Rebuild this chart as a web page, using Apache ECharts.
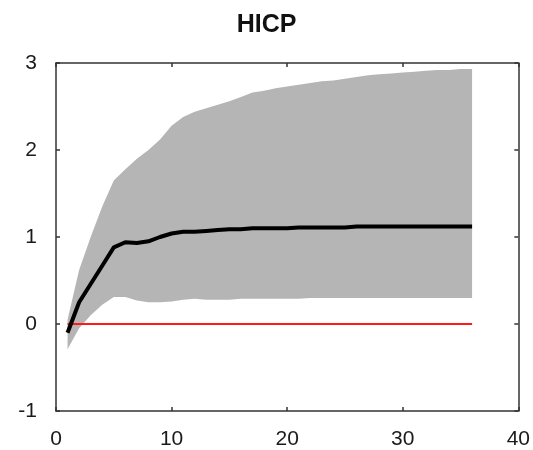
<!DOCTYPE html>
<html>
<head>
<meta charset="utf-8">
<script src="https://cdn.jsdelivr.net/npm/echarts@6/dist/echarts.min.js"></script>
<style>
html, body { margin: 0; padding: 0; background: #fff; }
#main { width: 533px; height: 450px; }
</style>
</head>
<body>
<div id="main"></div>
<script>
// horizons 1..36
var horizon = [];
for (var h = 1; h <= 36; h++) horizon.push(h);

var irf = [-0.10, 0.25, 0.46, 0.67, 0.88, 0.94, 0.93, 0.95, 1.00, 1.04,
    1.06, 1.06, 1.07, 1.08, 1.09, 1.09, 1.10, 1.10, 1.10, 1.10,
    1.11, 1.11, 1.11, 1.11, 1.11, 1.12, 1.12, 1.12, 1.12, 1.12,
    1.12, 1.12, 1.12, 1.12, 1.12, 1.12];

var upper = [0.05, 0.62, 1.00, 1.35, 1.65, 1.78, 1.90, 2.00, 2.12, 2.28,
    2.38, 2.44, 2.48, 2.52, 2.56, 2.61, 2.66, 2.68, 2.71, 2.73,
    2.75, 2.77, 2.79, 2.80, 2.82, 2.84, 2.86, 2.87, 2.88, 2.89,
    2.90, 2.91, 2.92, 2.92, 2.93, 2.93];

var lower = [-0.29, -0.05, 0.10, 0.22, 0.31, 0.31, 0.27, 0.25, 0.25, 0.26,
    0.28, 0.29, 0.28, 0.28, 0.28, 0.29, 0.29, 0.29, 0.29, 0.29,
    0.29, 0.30, 0.30, 0.30, 0.30, 0.30, 0.30, 0.30, 0.30, 0.30,
    0.30, 0.30, 0.30, 0.30, 0.30, 0.30];

var xTicks = [0, 10, 20, 30, 40];
var yTicks = [-1, 0, 1, 2, 3];

function pairs(ys) {
    return horizon.map(function (x, i) { return [x, ys[i]]; });
}

var axisFont = { color: '#1a1a1a', fontSize: 21, fontFamily: 'Liberation Sans, Arial, sans-serif' };
var frame = { onZero: false, lineStyle: { color: '#333', width: 1.5 } };
var inTick = { show: true, inside: true, length: 4, lineStyle: { color: '#333', width: 1.5 } };

var myChart = echarts.init(document.getElementById('main'));
myChart.setOption({
    backgroundColor: '#fff',
    animation: false,
    title: {
        text: 'HICP',
        left: 'center',
        top: 8,
        textStyle: { fontSize: 25, fontWeight: 'bold', color: '#111', fontFamily: 'Liberation Sans, Arial, sans-serif' }
    },
    grid: { left: 56, right: 10, top: 63, bottom: 39 },
    xAxis: [{
        type: 'value',
        min: xTicks[0], max: xTicks[xTicks.length - 1], interval: 10,
        axisLine: frame,
        axisTick: inTick,
        axisLabel: Object.assign({ margin: 18 }, axisFont),
        splitLine: { show: false }
    }, {
        type: 'value', position: 'top',
        min: xTicks[0], max: xTicks[xTicks.length - 1], interval: 10,
        axisLine: frame,
        axisTick: inTick,
        axisLabel: { show: false },
        splitLine: { show: false }
    }],
    yAxis: [{
        type: 'value',
        min: yTicks[0], max: yTicks[yTicks.length - 1], interval: 1,
        axisLine: Object.assign({ show: true }, frame),
        axisTick: inTick,
        axisLabel: Object.assign({ margin: 19 }, axisFont),
        splitLine: { show: false }
    }, {
        type: 'value', position: 'right',
        min: yTicks[0], max: yTicks[yTicks.length - 1], interval: 1,
        axisLine: Object.assign({ show: true }, frame),
        axisTick: inTick,
        axisLabel: { show: false },
        splitLine: { show: false }
    }],
    series: [{
        name: 'band',
        type: 'custom',
        silent: true,
        data: [0],
        renderItem: function (params, api) {
            var pts = [];
            for (var i = 0; i < horizon.length; i++) pts.push(api.coord([horizon[i], upper[i]]));
            for (var j = horizon.length - 1; j >= 0; j--) pts.push(api.coord([horizon[j], lower[j]]));
            return {
                type: 'polygon',
                shape: { points: pts },
                style: { fill: '#b5b5b5', stroke: 'none' }
            };
        },
        z: 1
    }, {
        name: 'zero',
        type: 'line',
        data: [[horizon[0], 0], [horizon[horizon.length - 1], 0]],
        symbol: 'none',
        lineStyle: { color: '#ff1a1a', width: 2 },
        z: 3
    }, {
        name: 'HICP',
        type: 'line',
        data: pairs(irf),
        symbol: 'none',
        lineStyle: { color: '#000', width: 4 },
        z: 4
    }]
});
</script>
</body>
</html>
